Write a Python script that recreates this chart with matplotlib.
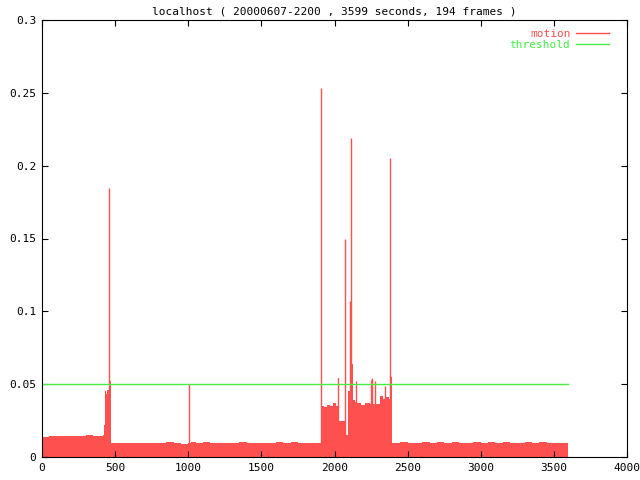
import matplotlib
matplotlib.use('Agg')
import matplotlib.pyplot as plt
from matplotlib.lines import Line2D

# motion level (step breakpoints, seconds / value)
motion_t = [0, 50, 100, 150, 200, 250, 300, 350, 400,
            415, 424, 428, 433, 440, 447, 455, 458, 462, 467, 471,
            474, 500, 550, 600, 650, 700, 750, 800, 850, 900, 950, 1000,
            1020, 1050, 1100, 1150, 1200, 1250, 1300, 1350, 1400, 1450,
            1500, 1550, 1600, 1650, 1700, 1750, 1800, 1850, 1900,
            1910, 1930, 1950, 1970, 1990, 2010, 2026, 2031, 2072, 2078,
            2095, 2112, 2118, 2128, 2140, 2150, 2180, 2210, 2240, 2311,
            2330, 2355, 2375, 2384, 2393,
            2450, 2500, 2550, 2600, 2650, 2700, 2750, 2800, 2850, 2900,
            2950, 3000, 3050, 3100, 3150, 3200, 3250, 3300, 3350, 3400,
            3450, 3500, 3550, 3599]
motion_v = [0.0140, 0.0143, 0.0142, 0.0145, 0.0146, 0.0144, 0.0148, 0.0145, 0.0142,
            0.0150, 0.0220, 0.0170, 0.0450, 0.0430, 0.0460, 0.0480, 0.0750, 0.0690, 0.0520, 0.0460,
            0.0095, 0.0098, 0.0093, 0.0097, 0.0095, 0.0099, 0.0094, 0.0097, 0.0100, 0.0095, 0.0092, 0.0094,
            0.0100, 0.0098, 0.0101, 0.0097, 0.0099, 0.0096, 0.0098, 0.0101, 0.0097, 0.0099,
            0.0096, 0.0098, 0.0100, 0.0097, 0.0101, 0.0098, 0.0096, 0.0099, 0.0097,
            0.0350, 0.0340, 0.0360, 0.0350, 0.0370, 0.0350, 0.0540, 0.0245, 0.0750, 0.0153,
            0.0450, 0.0450, 0.0640, 0.0390, 0.0380, 0.0370, 0.0360, 0.0370, 0.0365, 0.0420,
            0.0400, 0.0410, 0.0400, 0.0550, 0.0097,
            0.0100, 0.0096, 0.0099, 0.0101, 0.0097, 0.0100, 0.0098, 0.0102, 0.0097, 0.0099,
            0.0101, 0.0098, 0.0100, 0.0097, 0.0101, 0.0099, 0.0096, 0.0100, 0.0098, 0.0101,
            0.0097, 0.0099, 0.0096, 0.0]

# single-frame peaks
spike_t = [460, 1007, 1910, 2026, 2074, 2106, 2115, 2149, 2250, 2259, 2279, 2348, 2379]
spike_v = [0.185, 0.050, 0.253, 0.054, 0.1495, 0.107, 0.219, 0.052, 0.053, 0.054, 0.052, 0.049, 0.205]

threshold_t = [0, 3599]
threshold_v = [0.05, 0.05]

red = '#ff5050'
green = '#44ee44'
font = 'DejaVu Sans Mono'
fs = 8

fig = plt.figure(figsize=(6.4, 4.8), dpi=100)
ax = fig.add_axes([42/640, 23/480, 585/640, 437/480])

ax.fill_between(motion_t, motion_v, step='post', color=red, lw=0)
ax.vlines(spike_t, 0, spike_v, color=red, lw=1)
ax.plot(threshold_t, threshold_v, color=green, lw=1)

ax.set_xlim(0, 4000)
ax.set_ylim(0, 0.3)
ax.set_xticks(range(0, 4001, 500))
ax.set_yticks([0, 0.05, 0.1, 0.15, 0.2, 0.25, 0.3])
ax.set_yticklabels(['0', '0.05', '0.1', '0.15', '0.2', '0.25', '0.3'])
ax.tick_params(direction='in', length=4.5, width=0.8, top=True, right=True,
               labelsize=fs, pad=4)
for lab in ax.get_xticklabels() + ax.get_yticklabels():
    lab.set_family(font)
for s in ax.spines.values():
    s.set_linewidth(0.8)

ax.set_title('localhost ( 20000607-2200 , 3599 seconds, 194 frames )',
             family=font, fontsize=fs, pad=4)

handles = [Line2D([], [], color=red, lw=1), Line2D([], [], color=green, lw=1)]
leg = ax.legend(handles, ['motion', 'threshold'], loc='upper right',
                bbox_to_anchor=(0.985, 1.0), frameon=False, markerfirst=False,
                handlelength=3.0, handletextpad=0.5, labelspacing=0.1,
                borderpad=0.3, prop={'family': font, 'size': fs})
for txt, c in zip(leg.get_texts(), [red, green]):
    txt.set_color(c)

fig.savefig('out.png', dpi=100)
